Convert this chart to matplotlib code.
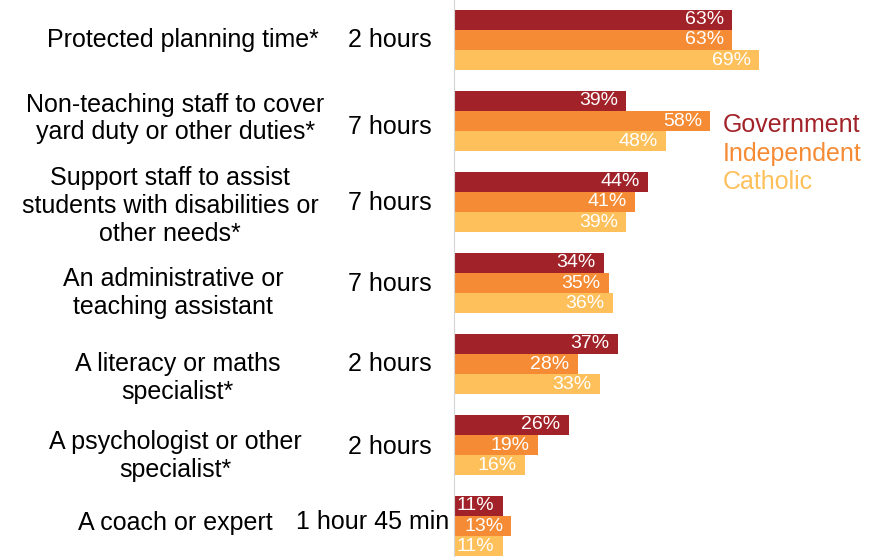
import numpy as np
import matplotlib.pyplot as plt

plt.rcParams['font.family'] = ['Liberation Sans', 'DejaVu Sans']

categories = [
    'Protected planning time*',
    'Non-teaching staff to cover\nyard duty or other duties*',
    'Support staff to assist\nstudents with disabilities or\nother needs*',
    'An administrative or\nteaching assistant',
    'A literacy or maths\nspecialist*',
    'A psychologist or other\nspecialist*',
    'A coach or expert',
]
hours = ['2 hours', '7 hours', '7 hours', '7 hours', '2 hours', '2 hours', '1 hour 45 min']
government = [63, 39, 44, 34, 37, 26, 11]
independent = [63, 58, 41, 35, 28, 19, 13]
catholic = [69, 48, 39, 36, 33, 16, 11]

series = [('Government', government, '#A12228'),
          ('Independent', independent, '#F58B35'),
          ('Catholic', catholic, '#FEC05B')]

W, H = 882, 557
fig = plt.figure(figsize=(W / 100, H / 100), dpi=100)
fig.patch.set_facecolor('white')
ax = fig.add_axes([454 / W, 0, 1 - 454 / W, 1])

px_per_pct = 4.42
ax.set_xlim(0, (W - 454) / px_per_pct)
ax.set_ylim((H - 40) / 81, -40 / 81)

y = np.arange(len(categories))
bar_h = 0.247
for k, (name, vals, color) in enumerate(series):
    pos = y + (k - 1) * bar_h
    ax.barh(pos, vals, height=bar_h, color=color, edgecolor='none')
    for p, v in zip(pos, vals):
        ax.annotate(f'{v}%', (v, p), xytext=(-6, 0), textcoords='offset points',
                    ha='right', va='center', color='white', fontsize=14)

# small nudges for the left-hand labels
cat_dx = [1.6, 0.0, -1.2, -0.5, 0.5, 0.0, 0.0]
cat_dy = [0.0, -0.03, 0.05, 0.12, 0.17, 0.14, -0.04]
hour_dy = [0.0, 0.07, 0.01, 0.01, 0.0, 0.03, -0.05]

for i, (cat, hr) in enumerate(zip(categories, hours)):
    ax.text(-63 + cat_dx[i], i + cat_dy[i], cat, ha='center', va='center',
            fontsize=18, linespacing=1.2, clip_on=False)
    if len(hr) > 8:
        ax.text(-1, i + hour_dy[i], hr, ha='right', va='center', fontsize=18,
                clip_on=False)
    else:
        ax.text(-14.5, i + hour_dy[i], hr, ha='center', va='center', fontsize=18,
                clip_on=False)

# legend as coloured words next to the second group
for k, (name, vals, color) in enumerate(series):
    ax.text(60.9, 1.055 + 0.35 * k, name, ha='left', va='center', color=color,
            fontsize=18)

for s in ['top', 'right', 'bottom']:
    ax.spines[s].set_visible(False)
ax.spines['left'].set_color('#D5D5D5')
ax.set_xticks([])
ax.set_yticks([])

fig.savefig('out.png', dpi=100)
